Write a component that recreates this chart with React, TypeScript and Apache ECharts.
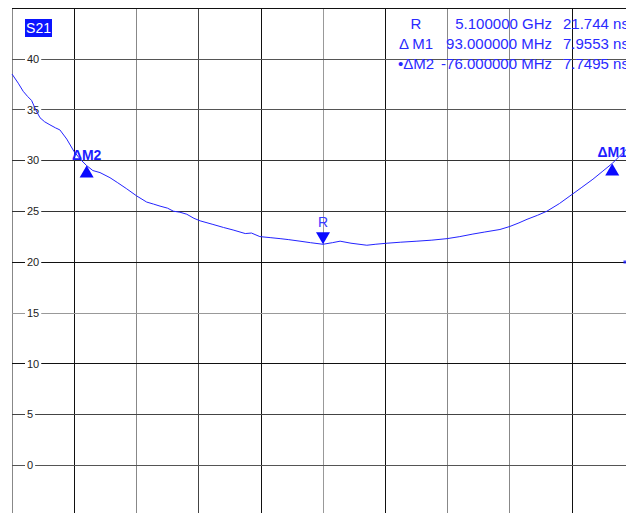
import React, { useEffect, useRef } from "react";
import * as echarts from "echarts";

// Trace data: frequency (MHz) vs group delay (ns)
const freqMHz = [
  5000.0, 5002.0, 5003.6, 5005.0, 5006.3, 5007.6, 5009.0, 5010.5, 5012.2, 5014.0,
  5015.4, 5017.6, 5019.9, 5022.0, 5024.0, 5026.0, 5028.3, 5031.5, 5034.0, 5036.9,
  5040.1, 5043.3, 5045.5, 5047.6, 5050.0, 5051.9, 5054.0, 5056.2, 5058.5, 5060.5,
  5064.6, 5068.0, 5071.1, 5075.0, 5077.0, 5079.7, 5083.0, 5086.2, 5089.0, 5092.6,
  5096.0, 5100.0, 5103.0, 5105.5, 5109.0, 5114.1, 5117.0, 5120.6, 5125.0, 5130.2,
  5135.0, 5139.9, 5144.0, 5148.2, 5152.0, 5156.9, 5160.1, 5163.0, 5165.6, 5169.0,
  5172.0, 5176.0, 5179.4, 5183.0, 5186.8, 5190.0, 5193.0, 5196.9, 5200.0,
];
const delayNs = [
  38.5, 37.6, 36.8, 36.3, 35.9, 35.0, 34.2, 33.8, 33.5, 33.2,
  33.0, 32.1, 30.9, 30.1, 29.49, 29.0, 28.8, 28.3, 27.8, 27.2,
  26.5, 25.9, 25.7, 25.5, 25.3, 25.0, 24.9, 24.7, 24.3, 24.05,
  23.7, 23.4, 23.15, 22.8, 22.85, 22.5, 22.4, 22.3, 22.2, 22.05,
  21.9, 21.744, 21.9, 22.05, 21.85, 21.65, 21.75, 21.85, 21.95, 22.05,
  22.15, 22.3, 22.5, 22.75, 22.95, 23.2, 23.5, 23.85, 24.2, 24.6,
  25.0, 25.75, 26.5, 27.3, 28.15, 28.95, 29.7, 30.9, 31.8,
];

// Markers
const markerNames = ["R", "ΔM1", "ΔM2"];
const markerFreq = [5100, 5193, 5024];
const markerDelay = [21.744, 29.7, 29.49];

// Readout table
const readoutLabels = ["R", "Δ M1", "•ΔM2"];
const readoutStim = ["5.100000 GHz", "93.000000 MHz", "-76.000000 MHz"];
const readoutResp = ["21.744 ns", "7.9553 ns", "7.7495 ns"];

// Reference level indicator
const refLevel = 20;
const refIndicatorFreq = 5197.1;

const traceName = "S21";

const FONT = "'Liberation Sans', Arial, sans-serif";

export default function App() {
  const ref = useRef<HTMLDivElement>(null);

  useEffect(() => {
    if (!ref.current) return;
    const chart = echarts.init(ref.current, null, { renderer: "svg" });

    const markData = markerNames.map((name, i) => {
      const isRef = name === "R";
      return {
        name,
        coord: [markerFreq[i], markerDelay[i]],
        symbol: "triangle",
        symbolSize: [14, 12],
        symbolRotate: isRef ? 180 : 0,
        symbolOffset: isRef ? [0, -6] : [0, 6],
        itemStyle: { color: "#0a0aff" },
        label: {
          show: true,
          formatter: name,
          position: "top",
          distance: isRef ? 3 : 4,
          color: isRef ? "#3a3aff" : "#1e1eff",
          fontSize: 14,
          fontWeight: isRef ? "normal" : "bold",
          fontFamily: FONT,
        },
      };
    });

    const readoutGraphics: any[] = [];
    readoutLabels.forEach((lab, i) => {
      const y = 23 + i * 20;
      const common = {
        fill: "#2a2aff",
        font: `15px ${FONT}`,
        textVerticalAlign: "middle",
        verticalAlign: "middle",
      };
      readoutGraphics.push({
        type: "text",
        x: 416,
        y,
        style: { ...common, text: lab, textAlign: "center", align: "center" },
        z: 10,
      });
      readoutGraphics.push({
        type: "text",
        x: 552,
        y,
        style: { ...common, text: readoutStim[i], textAlign: "right", align: "right" },
        z: 10,
      });
      readoutGraphics.push({
        type: "text",
        x: 563,
        y,
        style: { ...common, text: readoutResp[i], textAlign: "left", align: "left" },
        z: 10,
      });
    });

    chart.setOption({
      animation: false,
      backgroundColor: "#ffffff",
      grid: {
        left: 12,
        top: 8,
        width: 622,
        height: 508,
        containLabel: false,
        outerBoundsMode: "none",
      },
      xAxis: {
        type: "value",
        min: 5000,
        max: 5200,
        interval: 20,
        axisLine: { show: false },
        axisTick: { show: false },
        axisLabel: { show: false },
        splitLine: {
          show: true,
          lineStyle: {
            width: 1,
            color: ["#888", "#111", "#888", "#444", "#111", "#999", "#111", "#888", "#888", "#111", "#111"],
          },
        },
      },
      yAxis: {
        type: "value",
        min: -5,
        max: 45,
        interval: 5,
        axisLine: { show: false },
        axisTick: { show: false },
        axisLabel: {
          show: true,
          inside: true,
          margin: 13,
          formatter: (v: number) => (v < 0 || v > 40 ? "" : `{a|${v}}`),
          rich: {
            a: {
              backgroundColor: "#ffffff",
              padding: [0, 2],
              color: "#222",
              fontSize: 11,
              fontFamily: FONT,
            },
          },
        },
        splitLine: {
          show: true,
          lineStyle: {
            width: 1,
            color: ["#111", "#555", "#444", "#111", "#999", "#111", "#333", "#333", "#555", "#555", "#111"],
          },
        },
        z: 3,
      },
      series: [
        {
          type: "line",
          name: traceName,
          data: freqMHz.map((f, i) => [f, delayNs[i]]),
          showSymbol: false,
          symbol: "none",
          lineStyle: { color: "#2323ff", width: 1 },
          z: 4,
          markPoint: { data: markData, z: 6 },
        },
        {
          type: "scatter",
          data: [[refIndicatorFreq, refLevel]],
          symbol: "rect",
          symbolSize: 3,
          itemStyle: { color: "#1a1aff" },
          z: 5,
        },
      ],
      graphic: [
        {
          type: "rect",
          shape: { x: 25, y: 19, width: 27, height: 18 },
          style: { fill: "#0a14ff" },
          z: 10,
        },
        {
          type: "text",
          x: 38.5,
          y: 28,
          style: {
            text: traceName,
            fill: "#ffffff",
            font: `14px ${FONT}`,
            textAlign: "center",
            align: "center",
            textVerticalAlign: "middle",
            verticalAlign: "middle",
          },
          z: 11,
        },
        ...readoutGraphics,
      ],
    });

    return () => chart.dispose();
  }, []);

  return (
    <div
      ref={ref}
      style={{ position: "absolute", left: 0, top: 0, width: 626, height: 513 }}
    />
  );
}
